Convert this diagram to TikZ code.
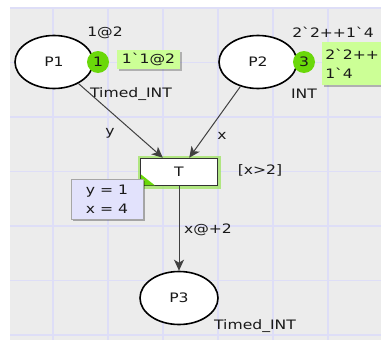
\documentclass[tikz,border=0pt]{standalone}
\usepackage{fontspec}
\newfontfamily\cpnfont[FakeStretch=1.2]{DejaVu Sans}
\usepackage{xcolor}
\usepackage{tikz}
\usetikzlibrary{arrows.meta,shapes.geometric,shadows}

\definecolor{cpnback}{RGB}{236,236,236}
\definecolor{cpngrid}{RGB}{222,222,247}
\definecolor{cpntoken}{RGB}{106,216,10}
\definecolor{cpnmark}{RGB}{204,255,150}
\definecolor{cpnbind}{RGB}{226,226,252}
\definecolor{cpnarc}{RGB}{64,64,64}
\definecolor{cpntext}{RGB}{25,25,25}

\begin{document}
\begin{tikzpicture}[x=1pt,y=-1pt,line width=0.5pt,
    font=\cpnfont\fontsize{13}{19}\selectfont, text=cpntext,
    place/.style={ellipse,draw=black,line width=1.6pt,fill=white,
      minimum width=78pt,minimum height=53pt,inner sep=0pt},
    trans/.style={rectangle,draw=black!80,line width=1.5pt,fill=white,
      minimum width=77pt,minimum height=27pt,inner sep=0pt,
      preaction={draw=cpntoken!70,line width=6pt,opacity=0.7}},
    token/.style={circle,fill=cpntoken,minimum size=22pt,inner sep=0pt},
    marking/.style={rectangle,fill=cpnmark,inner sep=0pt,
      drop shadow={shadow xshift=1.5pt,shadow yshift=-1.5pt,fill=black,opacity=0.25}},
    binding/.style={rectangle,draw=black!35,fill=cpnbind,inner sep=0pt,align=right,
      drop shadow={shadow xshift=2pt,shadow yshift=-2pt,fill=black,opacity=0.3}},
    arc/.style={draw=cpnarc,line width=1pt,-{Stealth[length=11pt,width=10pt,inset=3pt]}},
  ]
  \path[use as bounding box] (0,0) rectangle (381,340);
  \clip (0,0) rectangle (381,340);

  % page background and grid
  \fill[cpnback] (10,7) rectangle (381,340);
  \foreach \gx in {53,108,163,218,273,328}
    \draw[cpngrid,line width=1.5pt] (\gx,7) -- (\gx,340);
  \foreach \gy in {8,62.5,117,171.5,226,280.5,335}
    \draw[cpngrid,line width=1.5pt] (10,\gy) -- (381,\gy);

  % places
  \node[place] (p1) at (54,62) {P1};
  \node[place] (p2) at (258,62) {P2};
  \node[place] (p3) at (179,298) {P3};

  % transition
  \node[trans] (t) at (179,172) {T};
  \fill[cpntoken] ([shift={(1,-1)}]t.south west) -- ++(0,-11) -- ++(14,11) -- cycle;

  % arcs
  \draw[arc] (p1) -- (t);
  \draw[arc] (p2) -- (t);
  \draw[arc] (t) -- (p3);
  \node (ly) at (110,133) {y};
  \node (lx) at (222,136) {x};
  \node (lout) at (208,230) {x@+2};
  \node (guard) at (260,170) {[x>2]};

  % colour sets and initial markings
  \node (ty1) at (131,94) {Timed\_INT};
  \node (ty2) at (304,94) {INT};
  \node (ty3) at (255,326) {Timed\_INT};
  \node (im1) at (105,33) {1@2};
  \node (im2) at (333,32) {2`2++1`4};

  % current markings
  \node[token] (tok1) at (98,62) {1};
  \node[token] (tok2) at (304,62) {3};
  \node[marking,minimum width=63pt,minimum height=19pt] (m1) at (148.5,59.5) {1`1@2};
  \node[marking,minimum width=80pt,minimum height=43pt,anchor=north west,
    align=left,text width=74pt] (m2) at (322,42) {2`2++\\1`4};

  % binding of the transition
  \node[binding,minimum width=72pt,minimum height=40pt] (bind) at (107,199)
    {y = 1\\x = 4\hspace{8pt}};
\end{tikzpicture}
\end{document}
